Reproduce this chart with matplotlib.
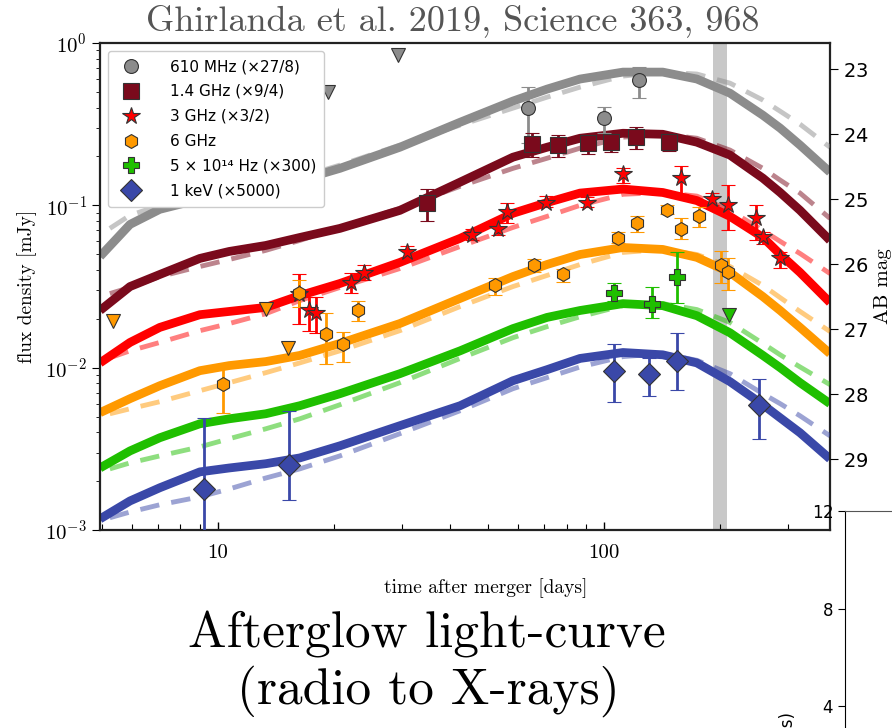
import numpy as np
import matplotlib
matplotlib.use("Agg")
import matplotlib.pyplot as plt
from matplotlib.lines import Line2D
from matplotlib.ticker import LogLocator, NullFormatter, FixedLocator

plt.rcParams['font.family'] = 'cmr10'
plt.rcParams['mathtext.fontset'] = 'cm'
plt.rcParams['axes.formatter.use_mathtext'] = True

# ---- model light curves, already scaled ----
t_model = [4.95, 5.92, 7.07, 8.98, 10.7, 13.3, 16.3, 20.7, 29.6, 42.4, 58.1,
           71.2, 86.7, 112, 142, 174, 212, 258, 286, 322, 385]
t_dash = [5.25, 5.92, 7.07, 8.98, 10.7, 13.3, 16.3, 20.7, 29.6, 42.4, 58.1,
          71.2, 86.7, 112, 142, 174, 212, 258, 286, 322, 385]

solid_610 = [0.0484, 0.0763, 0.0945, 0.109, 0.117, 0.129, 0.143, 0.169, 0.228, 0.325, 0.439,
             0.520, 0.600, 0.662, 0.662, 0.600, 0.491, 0.359, 0.299, 0.235, 0.160]
solid_14 = [0.0225, 0.0316, 0.0375, 0.0471, 0.0520, 0.0566, 0.0634, 0.0721, 0.0931, 0.139, 0.198,
            0.228, 0.259, 0.278, 0.274, 0.245, 0.204, 0.147, 0.120, 0.0931, 0.0608]
solid_3 = [0.0107, 0.0143, 0.0177, 0.0212, 0.0222, 0.0235, 0.0278, 0.0330, 0.0445, 0.0626, 0.0893,
           0.104, 0.119, 0.126, 0.120, 0.107, 0.0855, 0.0635, 0.0499, 0.0386, 0.0252]
solid_6 = [0.00528, 0.00644, 0.00774, 0.00958, 0.0103, 0.0109, 0.0119, 0.0141, 0.0187, 0.0267, 0.0364,
           0.0432, 0.0498, 0.0550, 0.0535, 0.0478, 0.0386, 0.0274, 0.0225, 0.0177, 0.0122]
solid_opt = [0.00241, 0.00307, 0.00370, 0.00451, 0.00484, 0.00520, 0.00583, 0.00691, 0.00918, 0.0127, 0.0174,
             0.0204, 0.0225, 0.0248, 0.0241, 0.0209, 0.0164, 0.0119, 0.0100, 0.00808, 0.00600]
solid_x = [0.00117, 0.00151, 0.00182, 0.00228, 0.00241, 0.00256, 0.00278, 0.00330, 0.00439, 0.00583, 0.00831,
           0.00972, 0.0114, 0.0124, 0.0120, 0.0107, 0.00820, 0.00591, 0.00491, 0.00397, 0.00274]

dash_610 = [0.0721, 0.0868, 0.100, 0.114, 0.122, 0.133, 0.149, 0.177, 0.235, 0.312, 0.397,
            0.464, 0.535, 0.626, 0.662, 0.644, 0.566, 0.445, 0.380, 0.316, 0.228]
dash_14 = [0.0286, 0.0312, 0.0364, 0.0420, 0.0464, 0.0528, 0.0608, 0.0731, 0.0958, 0.131, 0.169,
           0.195, 0.225, 0.263, 0.274, 0.259, 0.219, 0.169, 0.143, 0.119, 0.0831]
dash_3 = [0.0115, 0.0127, 0.0143, 0.0169, 0.0187, 0.0215, 0.0259, 0.0312, 0.0408, 0.0558, 0.0731,
          0.0855, 0.100, 0.117, 0.120, 0.114, 0.0931, 0.0701, 0.0600, 0.0505, 0.0380]
dash_6 = [0.00520, 0.00558, 0.00617, 0.00721, 0.00808, 0.00931, 0.0107, 0.0127, 0.0169, 0.0238, 0.0316,
          0.0370, 0.0432, 0.0513, 0.0535, 0.0498, 0.0420, 0.0321, 0.0270, 0.0222, 0.0167]
dash_opt = [0.00238, 0.00259, 0.00286, 0.00325, 0.00365, 0.00420, 0.00484, 0.00591, 0.00808, 0.0114, 0.0153,
            0.0179, 0.0206, 0.0241, 0.0248, 0.0228, 0.0190, 0.0141, 0.0120, 0.0101, 0.00786]
dash_x = [0.00119, 0.00129, 0.00143, 0.00160, 0.00179, 0.00209, 0.00238, 0.00286, 0.00392, 0.00543, 0.00742,
          0.00868, 0.0101, 0.0117, 0.0122, 0.0111, 0.00918, 0.00691, 0.00600, 0.00505, 0.00380]

# ---- observations (flux density in mJy, already scaled) ----
t_610 = [63.6, 100, 123]
f_610 = [0.397, 0.344, 0.591]
lo_610 = [0.241, 0.278, 0.458]
hi_610 = [0.535, 0.403, 0.711]
t_610_ul = [19.3, 29.3]
f_610_ul = [0.498, 0.843]

t_14 = [34.8, 65.0, 76.0, 90.9, 104, 121, 147]
f_14 = [0.104, 0.238, 0.235, 0.241, 0.245, 0.263, 0.245]
lo_14 = [0.0797, 0.198, 0.198, 0.206, 0.212, 0.222, 0.216]
hi_14 = [0.126, 0.278, 0.270, 0.259, 0.263, 0.303, 0.274]

t_3 = [16.2, 17.2, 18.0, 22.1, 23.9, 30.9, 45.5, 53.1, 56.1, 70.8, 90.4, 112, 158, 190, 210, 248, 258, 286]
f_3 = [0.0286, 0.0225, 0.0218, 0.0334, 0.0385, 0.0513, 0.066, 0.072, 0.0905, 0.104, 0.104,
       0.155, 0.147, 0.110, 0.101, 0.0833, 0.0634, 0.0471]
lo_3 = [0.0187, 0.0169, 0.0164, 0.0287, 0.0345, 0.0470, 0.061, 0.066, 0.0774, 0.097, 0.097,
        0.137, 0.118, 0.100, 0.0703, 0.0608, 0.058, 0.0409]
hi_3 = [0.0375, 0.0271, 0.0271, 0.0385, 0.0428, 0.0560, 0.071, 0.078, 0.104, 0.114, 0.112,
        0.171, 0.174, 0.119, 0.133, 0.100, 0.069, 0.0514]

t_6 = [10.3, 16.2, 19.1, 21.1, 23.1, 52.2, 65.9, 78.3, 109, 122, 146, 158, 176, 201, 210]
f_6 = [0.00796, 0.0290, 0.0162, 0.0139, 0.0228, 0.0322, 0.0427, 0.0375, 0.0625, 0.0774,
       0.0941, 0.0720, 0.0855, 0.0427, 0.0388]
lo_6 = [0.00526, 0.0235, 0.0106, 0.0109, 0.0193, 0.0282, 0.039, 0.0335, 0.0583, 0.0690,
        0.088, 0.0617, 0.0731, 0.0330, 0.0299]
hi_6 = [0.0106, 0.0345, 0.0218, 0.0167, 0.0259, 0.0355, 0.047, 0.0408, 0.0682, 0.0858,
        0.100, 0.0831, 0.0971, 0.0522, 0.0477]
t_6_ul = [5.35, 13.3, 15.2]
f_6_ul = [0.0194, 0.0231, 0.0132]

t_opt = [106, 133, 155]
f_opt = [0.0290, 0.0248, 0.0363]
lo_opt = [0.0259, 0.0201, 0.0252]
hi_opt = [0.0330, 0.0312, 0.0513]
t_opt_ul = [211]
f_opt_ul = [0.0212]

t_x = [9.2, 15.3, 106, 131, 155, 252]
f_x = [0.00179, 0.00250, 0.00953, 0.00916, 0.0110, 0.00589]
lo_x = [0.0008, 0.00152, 0.00617, 0.0067, 0.00733, 0.00365]
hi_x = [0.00487, 0.00537, 0.0139, 0.0115, 0.0164, 0.00854]

labels = ['610 MHz (×27/8)', '1.4 GHz (×9/4)', '3 GHz (×3/2)', '6 GHz',
          '5 × 10¹⁴ Hz (×300)', '1 keV (×5000)']
colors = ['#8c8c8c', '#7a0a1c', '#ff0000', '#ff9900', '#1fbf00', '#3a48a8']
markers = ['o', 's', '*', 'h', 'P', 'D']
msizes = [10, 11, 13, 10, 11, 11]

solids = [solid_610, solid_14, solid_3, solid_6, solid_opt, solid_x]
dashes = [dash_610, dash_14, dash_3, dash_6, dash_opt, dash_x]
obs = [(t_610, f_610, lo_610, hi_610), (t_14, f_14, lo_14, hi_14), (t_3, f_3, lo_3, hi_3),
       (t_6, f_6, lo_6, hi_6), (t_opt, f_opt, lo_opt, hi_opt), (t_x, f_x, lo_x, hi_x)]
uls = [(t_610_ul, f_610_ul), None, None, (t_6_ul, f_6_ul), (t_opt_ul, f_opt_ul), None]

fig = plt.figure(figsize=(8.92, 7.28), dpi=100)
ax = fig.add_axes([0.1121, 0.2720, 0.8184, 0.6689])

ax.axvspan(192, 208, color='#c8c8c8', zorder=0.5, lw=0)

for i in range(6):
    ax.plot(t_model, solids[i], color=colors[i], lw=6.3, solid_capstyle='butt',
            solid_joinstyle='round', zorder=2)
    ax.plot(t_dash, dashes[i], color=colors[i], lw=3.5, alpha=0.5, dashes=(4, 2.5), zorder=3)

handles = []
for i in range(6):
    t, f, lo, hi = obs[i]
    f = np.array(f)
    yerr = [f - np.array(lo), np.array(hi) - f]
    ax.errorbar(t, f, yerr=yerr, fmt=markers[i], ms=msizes[i], mfc=colors[i], mec='#333333',
                mew=0.8, ecolor=colors[i], elinewidth=2, capsize=5, capthick=1.5, zorder=5)
    if uls[i] is not None:
        ax.plot(uls[i][0], uls[i][1], 'v', ms=10, mfc=colors[i], mec='#333333', mew=0.8,
                ls='none', zorder=5)
    handles.append(Line2D([], [], ls='none', marker=markers[i], ms=msizes[i],
                          mfc=colors[i], mec='#333333', mew=0.8))

ax.set_xscale('log')
ax.set_yscale('log')
ax.set_xlim(4.95, 385)
ax.set_ylim(1e-3, 1)
ax.set_xticks([10, 100])
ax.set_xticklabels(['10', '100'])
ax.xaxis.set_minor_locator(LogLocator(base=10, subs=np.arange(2, 10)))
ax.xaxis.set_minor_formatter(NullFormatter())
ax.tick_params(axis='x', which='both', direction='in', labelsize=15, pad=10)
ax.tick_params(axis='x', which='major', length=6, width=1)
ax.tick_params(axis='x', which='minor', length=4, width=0.8)
ax.tick_params(axis='y', which='major', direction='out', length=6, labelsize=15)
ax.tick_params(axis='y', which='minor', direction='out', length=3)
ax.yaxis.set_minor_locator(LogLocator(base=10, subs=np.arange(2, 10)))
ax.yaxis.set_minor_formatter(NullFormatter())
for s in ax.spines.values():
    s.set_linewidth(1.6)
    s.set_color('#222222')
ax.set_ylabel('flux density [mJy]', fontsize=14, labelpad=6)

leg = ax.legend(handles, labels, loc='upper left', prop={'family': 'DejaVu Sans', 'size': 11},
                labelspacing=0.65, handletextpad=1.5, borderpad=0.55, framealpha=1,
                edgecolor='#cccccc', borderaxespad=0.5)
leg.set_zorder(10)

# AB magnitude of the optical band (scaled by 300)
zp = 2.5 * np.log10(3.631e6 * 300)
ax2 = ax.twinx()
ax2.set_ylim(zp + 2.5 * 3, zp)
ax2.yaxis.set_major_locator(FixedLocator(range(23, 30)))
ax2.tick_params(axis='y', direction='out', length=6, labelsize=14, labelfontfamily='DejaVu Sans')
for s in ax2.spines.values():
    s.set_visible(False)
ax2.set_ylabel('AB mag', fontsize=15, labelpad=4)

fig.text(0.507, 0.971, 'Ghirlanda et al. 2019, Science 363, 968', fontsize=26,
         color='#555555', ha='center', va='center')
fig.text(0.545, 0.192, 'time after merger [days]', fontsize=14, ha='center', va='center')
fig.text(0.478, 0.128, 'Afterglow light-curve', fontsize=37, ha='center', va='center')
fig.text(0.480, 0.050, '(radio to X-rays)', fontsize=37, ha='center', va='center')

# piece of the neighbouring panel in the bottom right corner
ax3 = fig.add_axes([845 / 892, 0.0, 0.2, 0.2981])
ax3.set_ylim(3.1, 12)
ax3.set_yticks([4, 8, 12])
ax3.set_xticks([])
ax3.spines['right'].set_visible(False)
ax3.spines['bottom'].set_visible(False)
ax3.spines['top'].set_color('#555555')
ax3.tick_params(axis='y', labelsize=12, labelfontfamily='DejaVu Sans', length=5)
fig.text(788 / 892, 1 - 712 / 728, 'Time (ms)', rotation=90, va='top', ha='center',
         fontsize=12, family='DejaVu Sans')

fig.savefig('out.png', dpi=100)
